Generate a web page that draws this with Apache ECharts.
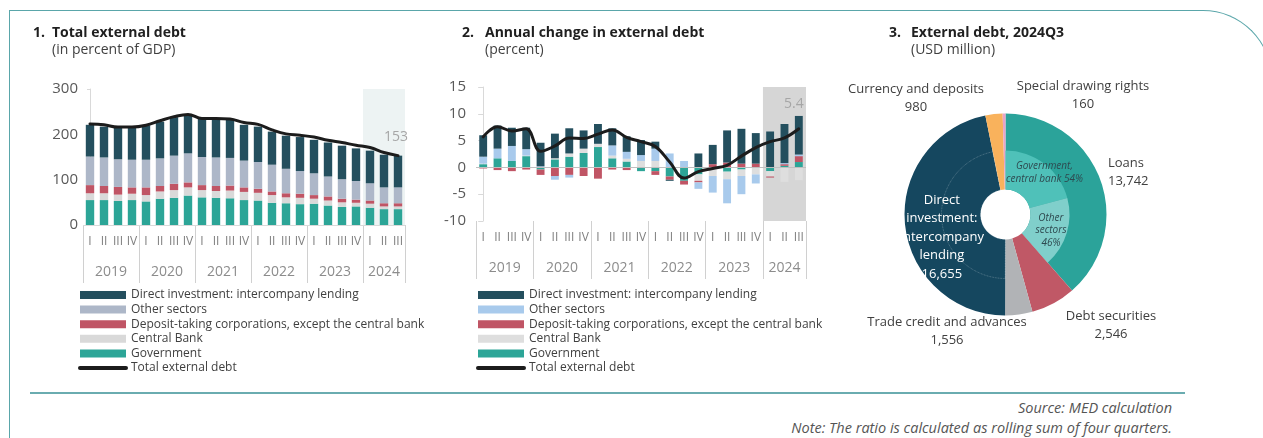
<!DOCTYPE html>
<html>
<head>
<meta charset="utf-8">
<title>External debt</title>
<script src="https://cdn.jsdelivr.net/npm/echarts@6/dist/echarts.min.js"></script>
<style>
  body { margin: 0; background: #fff; font-family: 'Open Sans', sans-serif; }
  .page { position: relative; width: 1263px; height: 438px; overflow: hidden; }
  .frame {
    position: absolute; left: 9px; top: 10px; width: 1263px; height: 480px;
    box-sizing: border-box;
    border: 1.5px solid #5aa6aa; border-bottom: none;
    border-top-right-radius: 69px;
  }
  .chart { position: absolute; top: 0; height: 385px; }
  #debtLevel { left: 0; width: 430px; }
  #debtChange { left: 430px; width: 400px; }
  #debtMix { left: 830px; width: 390px; }
  .rule { position: absolute; left: 30px; top: 392px; width: 1155px; height: 2px; background: #6aacb0; }
  .note {
    position: absolute; right: 91px; top: 398px; text-align: right;
    font-style: italic; font-size: 14.5px; color: #555; line-height: 20px;
  }
</style>
</head>
<body>
<div class="page">
  <div class="frame"></div>
  <div class="chart" id="debtLevel"></div>
  <div class="chart" id="debtChange"></div>
  <div class="chart" id="debtMix"></div>
  <div class="rule"></div>
  <div class="note">Source: MED calculation<br>Note: The ratio is calculated as rolling sum of four quarters.</div>
</div>
<script>
// quarters 2019Q1 .. 2024Q3
var quarters = ['2019Q1','2019Q2','2019Q3','2019Q4','2020Q1','2020Q2','2020Q3','2020Q4',
  '2021Q1','2021Q2','2021Q3','2021Q4','2022Q1','2022Q2','2022Q3','2022Q4',
  '2023Q1','2023Q2','2023Q3','2023Q4','2024Q1','2024Q2','2024Q3'];
var quarterMarks = ['I', 'II', 'III', 'IV'];
var years = ['2019', '2020', '2021', '2022', '2023', '2024'];

// 1. total external debt, % of GDP
var levelGov     = [55,55,53,55,52,58,60,65,61,60,59,55,54,49,48,46,47,43,40,41,38,35,35];
var levelCentral = [15,15,14,14,14,16,17,18,16,15,17,18,17,17,13,14,11,11,10,8,9,6,6];
var levelDeposit = [18,16,17,14,17,12,14,11,11,11,11,10,9,8,9,9,8,9,8,7,7,7,7];
var levelOther   = [63,63,61,61,61,61,62,64,62,63,61,59,59,59,54,50,48,44,43,41,38,35,35];
var levelDirect  = [70,68,69,70,76,81,85,85,84,85,86,79,78,73,73,75,74,75,74,72,72,72,70];
var levelTotal   = [223,221,216,216,220,230,239,244,235,235,234,226,222,210,201,198,194,187,182,176,171,160,153];

// 2. annual change, percent
var changeGov     = [0.6,1.7,1.2,2.1,-0.4,1.5,2.0,2.7,3.8,1.7,1.1,-0.7,-0.7,-1.7,-2.5,-1.3,0,-0.8,-0.4,0,-0.7,0.3,1.0];
var changeCentral = [0.1,0,0,0.1,0,0.2,0.6,0.8,0.6,0.5,0.5,1.2,1.2,0,0,-1.2,-1.6,-1.4,-1.2,-1.3,-1.0,-2.7,-2.4];
var changeDeposit = [-0.2,-0.5,-0.7,-0.4,-1.0,-1.6,-1.4,-1.6,-2.1,-0.4,-0.5,0,-0.7,-0.6,-0.7,-0.3,0.6,0.9,0.7,0.7,-0.2,0.3,1.1];
var changeOther   = [1.3,1.8,2.8,1.2,0.2,-0.7,-0.5,0,0,1.9,1.3,1.1,2.3,2.6,1.2,-1.2,-3.1,-4.5,-3.4,-1.7,0,0.2,0.3];
var changeDirect  = [4.0,4.3,3.4,4.0,4.4,4.6,4.7,3.4,3.7,3.2,2.9,2.8,1.3,-0.2,0,2.6,3.6,6.0,6.5,5.7,6.7,7.3,7.2];
var changeTotal   = [5.7,7.6,6.8,7.2,3.0,4.0,5.5,5.4,6.2,7.0,5.6,4.8,3.9,1.0,-2.0,-0.8,-0.2,0.4,2.1,3.7,4.8,5.5,7.2];
var changeNote = '5.4';

// 3. external debt 2024Q3, USD million
var debtTypes = ['Loans', 'Debt securities', 'Trade credit and advances',
  'Direct investment: intercompany lending', 'Currency and deposits', 'Special drawing rights'];
var debtAmounts = [13742, 2546, 1556, 16655, 980, 160];
var loanSplitNames = ['Government, central bank', 'Other sectors'];
var loanSplitShares = [54, 46];

var sectorNames = ['Direct investment: intercompany lending', 'Other sectors',
  'Deposit-taking corporations, except the central bank', 'Central Bank', 'Government', 'Total external debt'];

var axisGrey = '#595959';
var font = 'Open Sans';

// year bands on the quarter axis
var yearEdges = [], yearMids = [];
years.forEach(function (y, k) {
  var start = 4 * k - 0.5;
  var end = Math.min(4 * k + 3.5, quarters.length - 0.5);
  yearEdges.push(start);
  yearMids.push((start + end) / 2);
});
yearEdges.push(quarters.length - 0.5);

function panelTitle(num, text, sub, numLeft, textLeft) {
  var style = { fontFamily: font, fontSize: 14, fontWeight: 'bold', color: '#1f1f1f' };
  return [
    { text: num, left: numLeft - 5, top: 21, textStyle: style },
    { text: text, subtext: sub, left: textLeft - 5, top: 21, itemGap: 3, textStyle: style,
      subtextStyle: { fontFamily: font, fontSize: 14, color: '#404040' } }
  ];
}

function quarterAxes() {
  return [
    {
      type: 'category', data: quarters, position: 'bottom',
      axisLine: { show: false },
      axisTick: { show: false },
      axisLabel: {
        interval: 0, margin: 11, fontFamily: font, fontSize: 12, color: '#7f7f7f',
        formatter: function (v, i) { return quarterMarks[i % 4]; }
      }
    },
    {
      type: 'value', min: -0.5, max: quarters.length - 0.5, position: 'bottom',
      axisLine: { show: false }, splitLine: { show: false },
      axisTick: { show: true, customValues: yearEdges, length: 58, lineStyle: { color: '#d0d0d0' } },
      axisLabel: {
        customValues: yearMids, margin: 40, fontFamily: font, fontSize: 14, color: '#8c8c8c',
        formatter: function (v) { return years[yearMids.indexOf(v)] || ''; }
      }
    }
  ];
}

function legendBox(left) {
  var items = sectorNames.slice(0, 5).map(function (n) { return { name: n, icon: 'rect' }; });
  // line only, no marker
  items.push({ name: sectorNames[5], itemStyle: { color: 'rgba(0,0,0,0)', borderWidth: 0, opacity: 0 },
    lineStyle: { width: 4, color: '#1c1c1c', cap: 'round' } });
  return {
    orient: 'vertical', left: left, top: 284, itemWidth: 46, itemHeight: 8, itemGap: 2.6,
    data: items,
    textStyle: { fontFamily: font, fontSize: 12, color: '#404040' },
    selectedMode: false
  };
}

function highlight(color) {
  return {
    type: 'line', xAxisIndex: 1, data: [], silent: true,
    markArea: { silent: true, itemStyle: { color: color }, data: [[{ xAxis: 19.5 }, { xAxis: 22.5 }]] }
  };
}

function stackBar(name, data, color, width) {
  return { name: name, type: 'bar', stack: 'all', data: data, barWidth: width,
    itemStyle: { color: color }, emphasis: { disabled: true } };
}

function zeroLine(color) {
  return { silent: true, symbol: ['none', 'none'], label: { show: false },
    lineStyle: { color: color, width: 1, type: 'solid' }, data: [{ yAxis: 0 }] };
}

function totalLine(data, extra) {
  var s = {
    name: sectorNames[5], type: 'line', smooth: 0.4, symbol: 'none', z: 5,
    lineStyle: { color: '#1c1c1c', width: 3, cap: 'round' }, itemStyle: { color: '#1c1c1c' },
    data: data
  };
  return Object.assign(s, extra || {});
}

// ---- panel 1
var lastQ = quarters.length - 1;
var levelChart = echarts.init(document.getElementById('debtLevel'));
levelChart.setOption({
  animation: false,
  title: panelTitle('1.', 'Total external debt', '(in percent of GDP)', 33, 52),
  legend: legendBox(73),
  grid: { left: 83, top: 89, width: 322, height: 136 },
  xAxis: quarterAxes(),
  yAxis: {
    type: 'value', min: 0, max: 300, interval: 100,
    axisLine: { show: true, lineStyle: { color: '#d9d9d9' } },
    axisTick: { show: true, length: 3, lineStyle: { color: '#d9d9d9' } },
    splitLine: { show: false },
    axisLabel: { margin: 5, fontFamily: font, fontSize: 15, color: axisGrey }
  },
  series: [
    highlight('#edf3f3'),
    Object.assign(stackBar(sectorNames[4], levelGov, '#2ca597', '60%'), { markLine: zeroLine('#d9d9d9') }),
    stackBar(sectorNames[3], levelCentral, '#d9d9d9', '60%'),
    stackBar(sectorNames[2], levelDeposit, '#c05565', '60%'),
    stackBar(sectorNames[1], levelOther, '#adb7c8', '60%'),
    stackBar(sectorNames[0], levelDirect, '#244f5e', '60%'),
    totalLine(levelTotal, {
      markPoint: {
        silent: true, symbol: 'circle', symbolSize: 0,
        label: { show: true, position: 'top', distance: 12, offset: [-2, 0], formatter: '{c}',
          fontFamily: font, fontSize: 14, color: '#a6a6a6' },
        data: [{ coord: [quarters[lastQ], levelTotal[lastQ]], value: levelTotal[lastQ] }]
      }
    })
  ]
});

// ---- panel 2
var changeChart = echarts.init(document.getElementById('debtChange'));
changeChart.setOption({
  animation: false,
  title: panelTitle('2.', 'Annual change in external debt', '(percent)', 32, 55),
  legend: legendBox(41),
  grid: { left: 46, top: 87, width: 330, height: 134 },
  xAxis: quarterAxes(),
  yAxis: {
    type: 'value', min: -10, max: 15, interval: 5,
    axisLine: { show: true, lineStyle: { color: '#d9d9d9' } },
    axisTick: { show: true, length: 5, lineStyle: { color: '#d9d9d9' } },
    splitLine: { show: false },
    axisLabel: { margin: 10, fontFamily: font, fontSize: 15, color: axisGrey }
  },
  series: [
    highlight('#d6d6d6'),
    Object.assign(stackBar(sectorNames[4], changeGov, '#2ca597', '55%'), { markLine: zeroLine('#bfbfbf') }),
    stackBar(sectorNames[3], changeCentral, '#dedede', '55%'),
    stackBar(sectorNames[2], changeDeposit, '#c05565', '55%'),
    stackBar(sectorNames[1], changeOther, '#a8caec', '55%'),
    stackBar(sectorNames[0], changeDirect.map(function (v, i) {
      return i === lastQ ? { value: v, label: {
        show: true, position: 'top', distance: 5, offset: [-5, 0],
        formatter: function () { return changeNote; },
        fontFamily: font, fontSize: 14, color: '#a6a6a6' } } : v;
    }), '#244f5e', '55%'),
    totalLine(changeTotal)
  ]
});

// ---- panel 3 (chart div starts at page x 830)
var mixColors = ['#2ba39a', '#c05866', '#b1b3b6', '#15475f', '#f9b25c', '#e9a3c9'];
var pieCenter = [175.5, 214.5];
var labelSpots = {
  0: { x: 278, y: 172, align: 'left' },
  1: { x: 281, y: 325 },
  2: { x: 117, y: 331 },
  4: { x: 86, y: 98 },
  5: { x: 253, y: 95 }
};
var splitColors = ['#4fc1b9', '#80cfcb'];
var loanTotal = debtAmounts[0];
var innerData = loanSplitNames.map(function (n, i) {
  return { name: n, value: loanTotal * loanSplitShares[i] / 100,
    itemStyle: { color: splitColors[i] },
    label: { show: true, formatter: i === 0 ? n.replace(' ', '\n') + ' ' + loanSplitShares[i] + '%'
      : n.replace(' ', '\n') + '\n' + loanSplitShares[i] + '%' } };
});
debtTypes.forEach(function (n, i) {
  if (i === 0) return;
  innerData.push({ name: n + ' ', value: debtAmounts[i], label: { show: false },
    itemStyle: i === 3
      ? { color: 'transparent', borderColor: 'rgba(255,255,255,0.35)', borderWidth: 0.8, borderType: 'dotted' }
      : { color: 'transparent' } });
});

var mixChart = echarts.init(document.getElementById('debtMix'));
mixChart.setOption({
  animation: false,
  title: panelTitle('3.', 'External debt, 2024Q3', '(USD million)', 59, 81),
  series: [
    {
      type: 'pie', center: pieCenter, radius: [25, 101], startAngle: 90, clockwise: true,
      silent: true, avoidLabelOverlap: false,
      itemStyle: { borderWidth: 0 },
      label: {
        show: true, position: 'outside', fontFamily: font, fontSize: 13, color: '#404040', lineHeight: 18,
        formatter: function (p) { return p.name + '\n' + p.value.toLocaleString('en-US'); }
      },
      labelLine: { show: false },
      labelLayout: function (p) {
        var s = labelSpots[p.dataIndex];
        if (!s) return { dx: 2, dy: 16 };
        return { x: s.x, y: s.y, align: s.align || 'center', verticalAlign: 'middle' };
      },
      data: debtTypes.map(function (n, i) {
        var item = { name: n, value: debtAmounts[i], itemStyle: { color: mixColors[i] } };
        if (i === 3) {
          item.label = { position: 'inside', color: '#fff', fontSize: 13, lineHeight: 18.5,
            formatter: function (p) { return p.name.split(' ').join('\n') + '\n' + p.value.toLocaleString('en-US'); } };
        }
        return item;
      })
    },
    {
      type: 'pie', center: pieCenter, radius: [25, 64], startAngle: 90, clockwise: true,
      silent: true, avoidLabelOverlap: false,
      itemStyle: { borderWidth: 0 },
      label: { position: 'inside', fontFamily: font, fontSize: 10, fontStyle: 'italic', color: '#2e4a50', lineHeight: 12.5 },
      labelLine: { show: false },
      labelLayout: function (p) { return p.dataIndex === 0 ? { dx: 10, dy: -4 } : { dy: 2 }; },
      data: innerData
    }
  ]
});
</script>
</body>
</html>
